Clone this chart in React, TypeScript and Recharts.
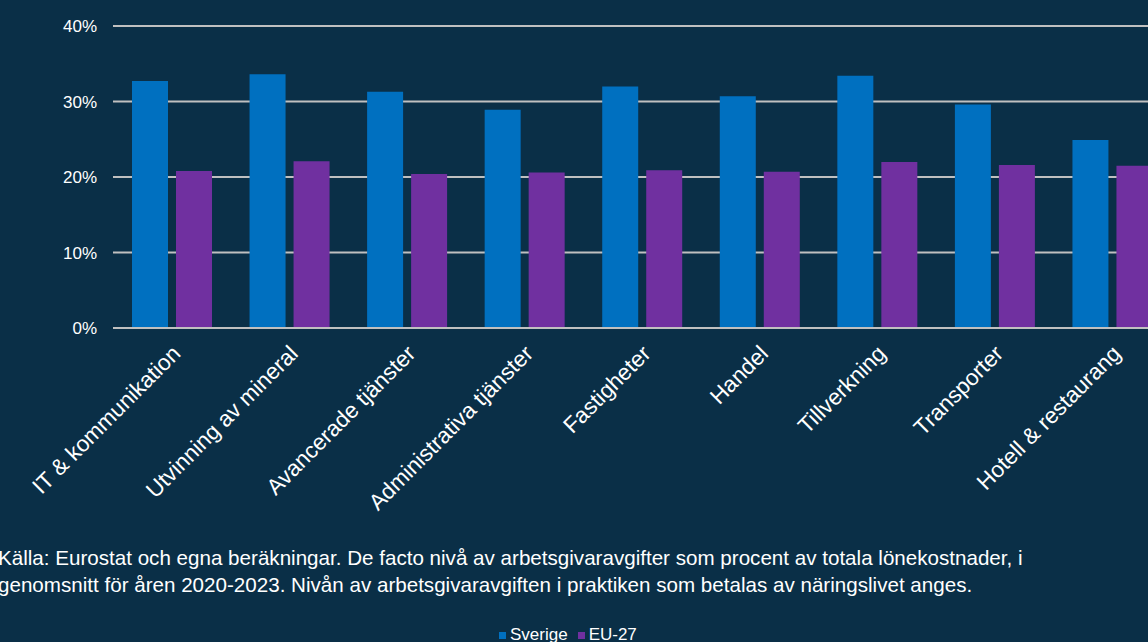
import React from "react";
import { BarChart, Bar, XAxis, YAxis, CartesianGrid, Legend } from "recharts";

const categories = [
  "IT & kommunikation",
  "Utvinning av mineral",
  "Avancerade tjänster",
  "Administrativa tjänster",
  "Fastigheter",
  "Handel",
  "Tillverkning",
  "Transporter",
  "Hotell & restaurang",
];
const sverige = [32.7, 33.6, 31.3, 28.9, 32.0, 30.7, 33.4, 29.6, 24.9];
const eu27 = [20.8, 22.1, 20.4, 20.6, 20.9, 20.7, 22.0, 21.6, 21.5];
const yTicks = [0, 10, 20, 30, 40];
const seriesOrder = ["Sverige", "EU-27"];
const caption = [
  "Källa: Eurostat och egna beräkningar. De facto nivå av arbetsgivaravgifter som procent av totala lönekostnader, i",
  "genomsnitt för åren 2020-2023. Nivån av arbetsgivaravgiften i praktiken som betalas av näringslivet anges.",
];

const data = categories.map((c, i) => ({ name: c, Sverige: sverige[i], "EU-27": eu27[i] }));

const FONT = '"Liberation Sans", Arial, sans-serif';
const BG = "#0a2f47";

const XTick = (props: any) => {
  const { x, y, payload } = props;
  return (
    <text
      transform={`translate(${x + 10},${y + 19}) rotate(-45)`}
      textAnchor="end"
      fill="#ffffff"
      fontSize={22.5}
      fontFamily={FONT}
    >
      {payload.value}
    </text>
  );
};

export default function App() {
  return (
    <div
      style={{
        position: "absolute",
        left: 0,
        top: 0,
        width: 1148,
        height: 642,
        overflow: "hidden",
        background: BG,
        fontFamily: FONT,
      }}
    >
      <BarChart
        width={1171}
        height={660}
        data={data}
        margin={{ top: 26, right: 0, left: 0, bottom: 0 }}
        barSize={36}
        barGap={8}
      >
        <CartesianGrid vertical={false} stroke="#c0c0c0" strokeWidth={2} />
        <XAxis
          dataKey="name"
          interval={0}
          height={302}
          tickLine={false}
          axisLine={{ stroke: "#c0c0c0", strokeWidth: 2 }}
          tick={<XTick />}
        />
        <YAxis
          width={113}
          domain={[0, 40]}
          ticks={yTicks}
          tickFormatter={(v: number) => `${v}%`}
          tickLine={false}
          axisLine={false}
          tickMargin={10}
          tick={{ fill: "#ffffff", fontSize: 17, fontFamily: FONT }}
        />
        <Legend
          align="left"
          verticalAlign="bottom"
          iconType="square"
          iconSize={7}
          itemSorter={(item: any) => seriesOrder.indexOf(item.value)}
          wrapperStyle={{ left: 499, top: 625, height: 30, fontSize: 17, fontFamily: FONT }}
          formatter={(value: string) => <span style={{ color: "#ffffff" }}>{value}</span>}
        />
        <Bar dataKey="Sverige" fill="#0070c0" isAnimationActive={false} />
        <Bar dataKey="EU-27" fill="#7030a0" isAnimationActive={false} />
      </BarChart>
      <div
        style={{
          position: "absolute",
          left: -2,
          top: 544,
          color: "#ffffff",
          fontSize: 20.6,
          lineHeight: "27px",
          whiteSpace: "nowrap",
          fontFamily: FONT,
        }}
      >
        {caption.map((l, i) => (
          <div key={i}>{l}</div>
        ))}
      </div>
    </div>
  );
}
